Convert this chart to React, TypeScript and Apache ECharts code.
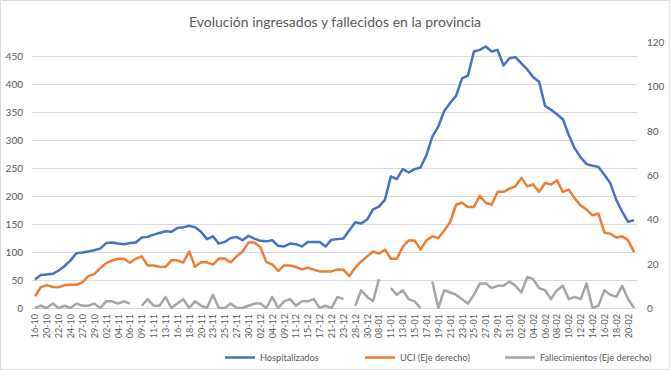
import React, { useEffect, useRef } from "react";
import * as echarts from "echarts";

const categories = [
  "16-10", "19-10", "20-10", "21-10", "22-10", "23-10", "24-10", "26-10", "27-10", "28-10",
  "29-10", "30-10", "02-11", "03-11", "04-11", "05-11", "06-11", "07-11", "09-11", "10-11",
  "11-11", "12-11", "13-11", "14-11", "16-11", "17-11", "18-11", "19-11", "20-11", "21-11",
  "23-11", "24-11", "25-11", "26-11", "27-11", "28-11", "30-11", "01-12", "02-12", "03-12",
  "04-12", "07-12", "09-12", "10-12", "11-12", "14-12", "15-12", "16-12", "17-12", "18-12",
  "21-12", "22-12", "23-12", "24-12", "28-12", "29-12", "30-12", "04-01", "08-01", "10-01",
  "11-01", "12-01", "13-01", "14-01", "15-01", "16-01", "17-01", "18-01", "19-01", "20-01",
  "21-01", "22-01", "23-01", "24-01", "25-01", "26-01", "27-01", "28-01", "29-01", "30-01",
  "31-01", "01-02", "02-02", "03-02", "04-02", "05-02", "06-02", "07-02", "08-02", "09-02",
  "10-02", "11-02", "12-02", "13-02", "14-02", "15-02", "16-02", "17-02", "18-02", "19-02",
  "20-02", "21-02",
];

const hospitalizados = [
  51, 59, 60, 61, 67, 75, 85, 98, 99, 101,
  103, 106, 116, 117, 115, 114, 116, 117, 126, 127,
  131, 134, 137, 136, 143, 144, 147, 144, 136, 123,
  128, 115, 118, 125, 127, 121, 129, 124, 120, 119,
  121, 111, 110, 115, 114, 110, 118, 118, 118, 110,
  122, 123, 124, 139, 153, 151, 158, 176, 181, 193,
  235, 230, 248, 242, 248, 251, 273, 306, 324, 352,
  366, 379, 410, 415, 458, 461, 467, 458, 461, 433,
  446, 448, 437, 426, 412, 404, 361, 354, 346, 337,
  309, 285, 269, 257, 254, 252, 238, 223, 193, 172,
  154, 157,
];

const uci = [
  5.3, 9.4, 10.3, 9.5, 9.4, 10.3, 10.5, 10.5, 11.6, 14.4,
  15.3, 18, 20.2, 21.4, 22.2, 22.2, 20.4, 22.2, 23.3, 19.2,
  19.2, 18.6, 18.5, 21.5, 21.5, 20.5, 25.5, 18.6, 20.6, 20.6,
  19.6, 22.3, 22.3, 20.6, 23.3, 25.5, 29.5, 29.5, 27.5, 20.7,
  19.7, 16.7, 19.2, 19.2, 18.5, 17.4, 18.2, 17.3, 16.5, 16.5,
  16.5, 17.4, 17.3, 14.4, 18.2, 21, 23.3, 25.5, 24.5, 26.4,
  22.2, 22.2, 27.5, 30.5, 30.5, 26.4, 30.5, 32.3, 31.6, 35,
  38.8, 46.6, 47.5, 45.6, 45.6, 50.6, 47.5, 46.6, 52.4, 52.4,
  53.9, 54.9, 58.7, 54.9, 55.7, 52.4, 56.4, 55.7, 57.6, 52.4,
  53.4, 49.4, 46.3, 44.4, 41.8, 42.6, 34, 33.5, 31.8, 32.3,
  30.6, 25.2,
];

const fallecimientos: (number | null)[] = [
  0, 1, 0, 2, 0, 1, 0, 2, 1, 1,
  2, 0, 3, 3, 2, 3, 2, null, 1, 4,
  1, 1, 5, 0, 2, 4, 0, 3, 1, 0,
  6, 0, 0, 2, 0, 0, 1, 2, 2, 0,
  5, 0, 3, 4, 1, 3, 3, 4, 0, 1,
  0, 5, 4, null, 1, 8, 5, 3, 13, null,
  9, 6, 8, 4, 3, 0, null, 12, 0, 8,
  7, 6, 4, 2, 6, 11, 11, 9, 10, 10,
  12, 10, 7, 14, 13, 9, 8, 4, 8, 10,
  4, 5, 4, 11, 0, 1, 8, 6, 5, 10,
  4, 0,
];

const FONT = "Lato";
const TEXT = "#595959";

export default function App() {
  const ref = useRef<HTMLDivElement>(null);
  useEffect(() => {
    if (!ref.current) return;
    const chart = echarts.init(ref.current, undefined, { renderer: "svg" });
    const legendBase = {
      top: 348,
      icon: "rect",
      itemWidth: 30,
      itemHeight: 2.5,
      itemGap: 5,
      textStyle: { color: TEXT, fontSize: 9.2, fontFamily: FONT },
    };
    chart.setOption({
      animation: false,
      backgroundColor: "#ffffff",
      textStyle: { fontFamily: FONT },
      title: {
        text: "Evolución ingresados y fallecidos en la provincia",
        left: "center",
        top: 9,
        textStyle: { color: TEXT, fontSize: 14, fontWeight: "normal", fontFamily: FONT },
      },
      graphic: [
        {
          type: "rect",
          shape: { x: 0.5, y: 0.5, width: 669, height: 369 },
          style: { fill: "none", stroke: "#d9d9d9", lineWidth: 1 },
          silent: true,
        },
      ],
      legend: [
        { ...legendBase, left: 220, data: ["Hospitalizados"] },
        { ...legendBase, left: 360, data: ["UCI (Eje derecho)"] },
        { ...legendBase, left: 500, data: ["Fallecimientos (Eje derecho)"] },
      ],
      grid: { left: 32, right: 33, top: 42, bottom: 62, containLabel: false },
      xAxis: {
        type: "category",
        data: categories,
        boundaryGap: true,
        axisLine: { lineStyle: { color: "#d9d9d9", width: 1 } },
        axisTick: { show: false },
        axisLabel: {
          interval: 1,
          rotate: 90,
          fontSize: 9,
          color: TEXT,
          margin: 6,
          fontFamily: FONT,
        },
      },
      yAxis: [
        {
          type: "value",
          min: 0,
          max: 475,
          interval: 50,
          axisLine: { show: false },
          axisTick: { show: false },
          axisLabel: {
            color: TEXT,
            fontSize: 10,
            margin: 9,
            fontFamily: FONT,
            showMaxLabel: false,
            formatter: (v: number) => (v > 450 ? "" : String(v)),
          },
          splitLine: { show: true, showMaxLine: false, lineStyle: { color: "#d9d9d9", width: 1 } },
        },
        {
          type: "value",
          min: 0,
          max: 120,
          interval: 20,
          position: "right",
          axisLine: { show: false },
          axisTick: { show: false },
          axisLabel: { color: TEXT, fontSize: 10, margin: 10, fontFamily: FONT },
          splitLine: { show: false },
        },
      ],
      series: [
        {
          name: "Hospitalizados",
          type: "line",
          data: hospitalizados,
          yAxisIndex: 0,
          symbol: "none",
          lineStyle: { color: "#4472C4", width: 2.5, join: "round" },
          itemStyle: { color: "#4472C4" },
        },
        {
          name: "UCI (Eje derecho)",
          type: "line",
          data: uci,
          yAxisIndex: 1,
          symbol: "none",
          lineStyle: { color: "#ED7D31", width: 2.5, join: "round" },
          itemStyle: { color: "#ED7D31" },
        },
        {
          name: "Fallecimientos (Eje derecho)",
          type: "line",
          data: fallecimientos,
          yAxisIndex: 1,
          symbol: "none",
          connectNulls: false,
          lineStyle: { color: "#A5A5A5", width: 2.5, join: "round" },
          itemStyle: { color: "#A5A5A5" },
        },
      ],
    });
    return () => chart.dispose();
  }, []);
  return (
    <div
      ref={ref}
      style={{ position: "fixed", left: 0, top: 0, width: 670, height: 370 }}
    />
  );
}
